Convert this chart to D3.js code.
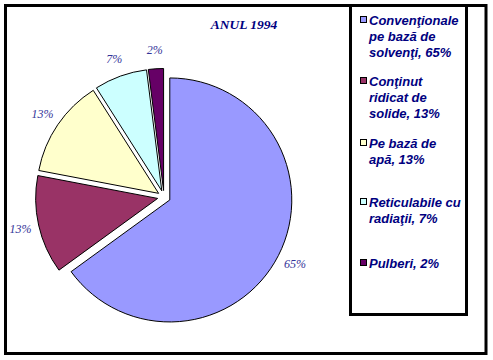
<!DOCTYPE html>
<html><head><meta charset="utf-8">
<script src="https://cdn.jsdelivr.net/npm/d3@7"></script>
<style>body{margin:0;background:#fff}svg{display:block}</style>
</head><body>
<script>
const categories = ["Convenţionale pe bază de solvenţi", "Conţinut ridicat de solide", "Pe bază de apă", "Reticulabile cu radiaţii", "Pulberi"];
const values = [65, 13, 13, 7, 2];
const colors = ["#9999FF", "#993366", "#FFFFCC", "#CCFFFF", "#660066"];
const legendLines = [
  ["Convenţionale", "pe bază de", "solvenţi, 65%"],
  ["Conţinut", "ridicat de", "solide, 13%"],
  ["Pe bază de", "apă, 13%"],
  ["Reticulabile cu", "radiaţii, 7%"],
  ["Pulberi, 2%"]
];
const legendY = [20, 81, 143, 202, 263];
const title = "ANUL 1994";

const W = 493, H = 360;
const svg = d3.select("body").append("svg").attr("width", W).attr("height", H);

// outer border
svg.append("rect").attr("x", 5.5).attr("y", 5.5).attr("width", 480.5).attr("height", 348)
  .attr("fill", "none").attr("stroke", "#000").attr("stroke-width", 3);
// legend border
svg.append("rect").attr("x", 350.5).attr("y", 5.5).attr("width", 116).attr("height", 309)
  .attr("fill", "none").attr("stroke", "#000").attr("stroke-width", 3);

// title
svg.append("text").attr("x", 244).attr("y", 29).attr("text-anchor", "middle")
  .attr("font-family", "'Liberation Serif', 'Times New Roman', serif")
  .attr("font-style", "italic").attr("font-weight", "bold").attr("font-size", 13.5)
  .attr("fill", "#000080").text(title);

const cx = 164, cy = 197, r = 122, explode = 6.5, labelR = 147;
const pie = d3.pie().sort(null).value(d => d).startAngle(0).endAngle(2 * Math.PI);
const arcs = pie(values);
const arc = d3.arc().innerRadius(0).outerRadius(r);
const g = svg.append("g").attr("transform", `translate(${cx},${cy})`);

arcs.forEach((a, i) => {
  const mid = (a.startAngle + a.endAngle) / 2;
  const dx = Math.sin(mid) * explode, dy = -Math.cos(mid) * explode;
  g.append("path").attr("d", arc(a)).attr("transform", `translate(${dx},${dy})`)
    .attr("fill", colors[i]).attr("stroke", "#000").attr("stroke-width", 1);
  g.append("text")
    .attr("x", Math.sin(mid) * labelR).attr("y", -Math.cos(mid) * labelR)
    .attr("text-anchor", "middle").attr("dominant-baseline", "central")
    .attr("font-family", "'Liberation Serif', 'Times New Roman', serif")
    .attr("font-style", "italic").attr("font-size", 12)
    .attr("fill", "#333399").text(values[i] + "%");
});

// legend
const lg = svg.append("g");
legendLines.forEach((lines, i) => {
  const y0 = legendY[i];
  lg.append("rect").attr("x", 360.5).attr("y", y0 - 3.5).attr("width", 6).attr("height", 6)
    .attr("fill", colors[i]).attr("stroke", "#000").attr("stroke-width", 1);
  lines.forEach((t, j) => {
    lg.append("text").attr("x", 369).attr("y", y0 + j * 16.3)
      .attr("dominant-baseline", "central")
      .attr("font-family", "'Liberation Sans', Arial, sans-serif")
      .attr("font-style", "italic").attr("font-weight", "bold").attr("font-size", 13)
      .attr("fill", "#000080").text(t);
  });
});
</script>
</body></html>
